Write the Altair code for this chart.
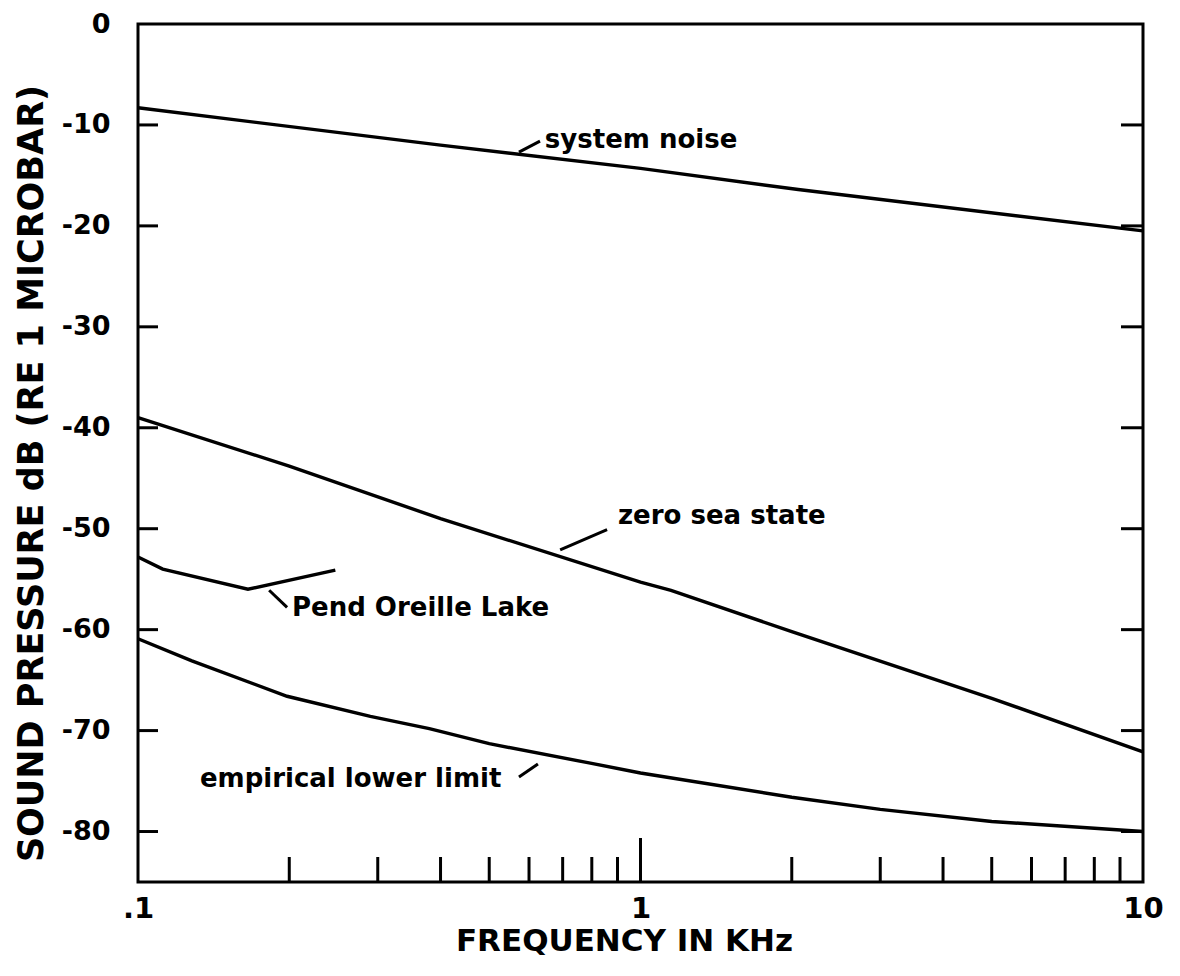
import altair as alt
import pandas as pd

# ---- data ----
sys_f = [0.1, 0.4, 1.0, 2.06, 10.0]
sys_db = [-8.3, -12.0, -14.3, -16.4, -20.5]

zero_f = [0.1, 0.2, 0.4, 1.0, 1.15, 2.0, 5.0, 10.0]
zero_db = [-39.0, -43.8, -49.0, -55.3, -56.1, -60.2, -66.8, -72.1]

pend_f = [0.1, 0.112, 0.1655, 0.247]
pend_db = [-52.8, -54.0, -56.0, -54.1]

emp_f = [0.1, 0.128, 0.198, 0.29, 0.38, 0.5, 0.79, 1.0, 2.0, 3.0, 5.0, 10.0]
emp_db = [-60.9, -63.1, -66.6, -68.6, -69.8, -71.3, -73.2, -74.2, -76.6, -77.8, -79.0, -80.0]

series_names = ["system noise", "zero sea state", "Pend Oreille Lake", "empirical lower limit"]

# annotation labels (text start position, baseline)
label_text = ["system noise", "zero sea state", "Pend Oreille Lake", "empirical lower limit"]
label_f = [0.645, 0.902, 0.2025, 0.1328]
label_db = [-12.3, -49.5, -58.6, -75.6]

# leader lines
lead_f1 = [0.573, 0.692, 0.1824, 0.573]
lead_db1 = [-12.7, -52.1, -56.1, -74.6]
lead_f2 = [0.631, 0.858, 0.198, 0.625]
lead_db2 = [-11.6, -50.1, -57.8, -73.3]

# ticks
x_tick_values = [0.1, 1, 10]
x_tick_labels = [".1", "1", "10"]
x_minor = [0.2, 0.3, 0.4, 0.5, 0.6, 0.7, 0.8, 0.9, 2, 3, 4, 5, 6, 7, 8, 9]
x_major = [1]
y_tick_values = [0, -10, -20, -30, -40, -50, -60, -70, -80]
y_tick_labels = ["0", "-10", "-20", "-30", "-40", "-50", "-60", "-70", "-80"]
y_inner_ticks = [-10, -20, -30, -40, -50, -60, -70, -80]

# ---- tables ----
rows = []
for name, fs, ds in zip(series_names, [sys_f, zero_f, pend_f, emp_f], [sys_db, zero_db, pend_db, emp_db]):
    for f, d in zip(fs, ds):
        rows.append({"series": name, "f": f, "db": d})
curves = pd.DataFrame(rows)
labels = pd.DataFrame({"text": label_text, "f": label_f, "db": label_db})
leaders = pd.DataFrame({"f": lead_f1, "db": lead_db1, "f2": lead_f2, "db2": lead_db2})
minor_df = pd.DataFrame({"f": x_minor})
major_df = pd.DataFrame({"f": x_major})
yt_df = pd.DataFrame({"db": y_inner_ticks})

W, H = 1005, 858
FONT = "DejaVu Sans"

def lab_expr(vals, labs):
    expr = "''"
    for v, l in reversed(list(zip(vals, labs))):
        expr = f"abs(datum.value - ({v})) < 1e-6 ? '{l}' : ({expr})"
    return expr

xscale = alt.Scale(type="log", domain=[0.1, 10], nice=False)
yscale = alt.Scale(domain=[-85, 0], nice=False, zero=False)

XT = "FREQUENCY IN KHz"
YT = "SOUND PRESSURE dB  (RE 1 MICROBAR)"

x_axis = alt.Axis(
    values=x_tick_values, labelExpr=lab_expr(x_tick_values, x_tick_labels),
    ticks=False, domain=False, grid=False,
    labelFont=FONT, labelFontWeight="bold", labelFontSize=29, labelColor="black",
    labelPadding=12, labelFlush=False, labelOverlap=False, labelBound=False,
    title=XT, titleFont=FONT, titleFontWeight="bold", titleFontSize=31,
    titleColor="black", titleX=486, titleY=59, titleAlign="center", titleBaseline="middle",
)
y_axis = alt.Axis(
    values=y_tick_values, labelExpr=lab_expr(y_tick_values, y_tick_labels),
    ticks=False, domain=False, grid=False,
    labelFont=FONT, labelFontWeight="bold", labelFontSize=27, labelColor="black",
    labelPadding=28, labelFlush=False, labelOverlap=False, labelBound=False,
    title=YT, titleFont=FONT, titleFontWeight="bold",
    titleFontSize=35, titleColor="black", titleAngle=270, titleX=-107, titleY=449,
    titleAlign="center", titleBaseline="middle",
)

X = alt.X("f:Q", scale=xscale, axis=x_axis, title=XT)
Y = alt.Y("db:Q", scale=yscale, axis=y_axis, title=YT)

lines = alt.Chart(curves).mark_line(color="black", strokeWidth=3.4).encode(
    x=X, y=Y, detail="series:N",
)

text = alt.Chart(labels).mark_text(
    align="left", baseline="alphabetic", font=FONT, fontWeight="bold", fontSize=26, color="black"
).encode(x=X, y=Y, text="text:N")

lead = alt.Chart(leaders).mark_rule(color="black", strokeWidth=3).encode(
    x=X, x2="f2:Q", y=Y, y2="db2:Q",
)

left_ticks = alt.Chart(yt_df).mark_rule(color="black", strokeWidth=3).encode(
    y=Y, x=alt.value(0), x2=alt.value(20)
)
right_ticks = alt.Chart(yt_df).mark_rule(color="black", strokeWidth=3).encode(
    y=Y, x=alt.value(W - 22), x2=alt.value(W)
)
minor_ticks = alt.Chart(minor_df).mark_rule(color="black", strokeWidth=3).encode(
    x=X, y=alt.value(H), y2=alt.value(H - 25)
)
major_ticks = alt.Chart(major_df).mark_rule(color="black", strokeWidth=3).encode(
    x=X, y=alt.value(H), y2=alt.value(H - 44)
)

chart = alt.layer(
    lines, lead, text, left_ticks, right_ticks, minor_ticks, major_ticks
).properties(
    width=W, height=H,
    autosize=alt.AutoSizeParams(type="none"),
    padding={"left": 130, "top": 16, "right": 25, "bottom": 86},
    background="white",
).configure_view(stroke="black", strokeWidth=3)

chart.save("out.html", embed_options={"renderer": "svg", "actions": False})
